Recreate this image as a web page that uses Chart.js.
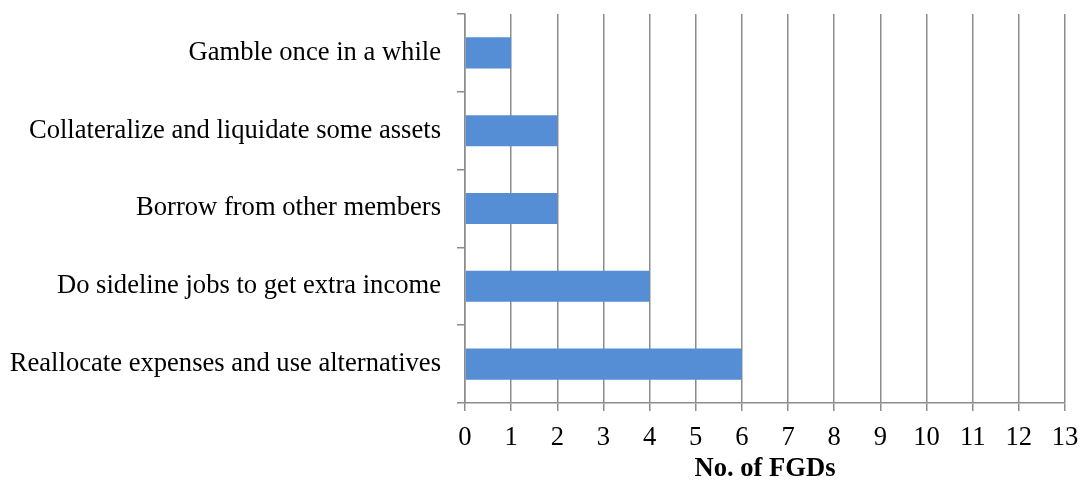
<!DOCTYPE html>
<html>
<head>
<meta charset="utf-8">
<script src="https://cdn.jsdelivr.net/npm/chart.js@4/dist/chart.umd.min.js"></script>
<style>
  html, body { margin: 0; padding: 0; background: #fff; }
  #wrap { width: 1081px; height: 485px; }
</style>
</head>
<body>
<div id="wrap"><canvas id="fgdChart"></canvas></div>
<script>
const strategies = [
  'Gamble once in a while',
  'Collateralize and liquidate some assets',
  'Borrow from other members',
  'Do sideline jobs to get extra income',
  'Reallocate expenses and use alternatives'
];
const fgdCounts = [1, 2, 2, 4, 6];
const xMin = 0;
const xMax = 13;

const font = { family: '"Liberation Serif", "Times New Roman", serif', size: 26.6 };
const gridGray = '#8c8c8c';

const ctx = document.getElementById('fgdChart').getContext('2d');
new Chart(ctx, {
  type: 'bar',
  data: {
    labels: strategies,
    datasets: [{
      label: 'No. of FGDs',
      data: fgdCounts,
      backgroundColor: '#558ed5',
      barPercentage: 0.4,
      categoryPercentage: 1
    }]
  },
  options: {
    indexAxis: 'y',
    responsive: true,
    maintainAspectRatio: false,
    animation: false,
    layout: { padding: { top: 14, right: 16, left: 0, bottom: 0 } },
    plugins: {
      legend: { display: false },
      tooltip: { enabled: false }
    },
    scales: {
      x: {
        min: xMin,
        max: xMax,
        ticks: { stepSize: 1, color: '#000', font: font, padding: 11 },
        grid: { color: gridGray, lineWidth: 1.5, tickLength: 8 },
        border: { color: gridGray, width: 1.5 },
        title: {
          display: true,
          text: 'No. of FGDs',
          color: '#000',
          font: { family: font.family, size: 26.6, weight: 'bold' },
          padding: { top: 4, bottom: 0 }
        },
        afterFit: (scale) => {
          scale.height = 82;
          scale.paddingLeft = 0;
          scale.paddingRight = 0;
        }
      },
      y: {
        ticks: { color: '#000', font: font, padding: 16 },
        grid: { drawOnChartArea: false, color: gridGray, lineWidth: 1.5, tickLength: 8, offset: true },
        border: { color: gridGray, width: 1.5 },
        afterFit: (scale) => {
          scale.width = 465;
          scale.paddingTop = 0;
          scale.paddingBottom = 0;
        }
      }
    }
  }
});
</script>
</body>
</html>
